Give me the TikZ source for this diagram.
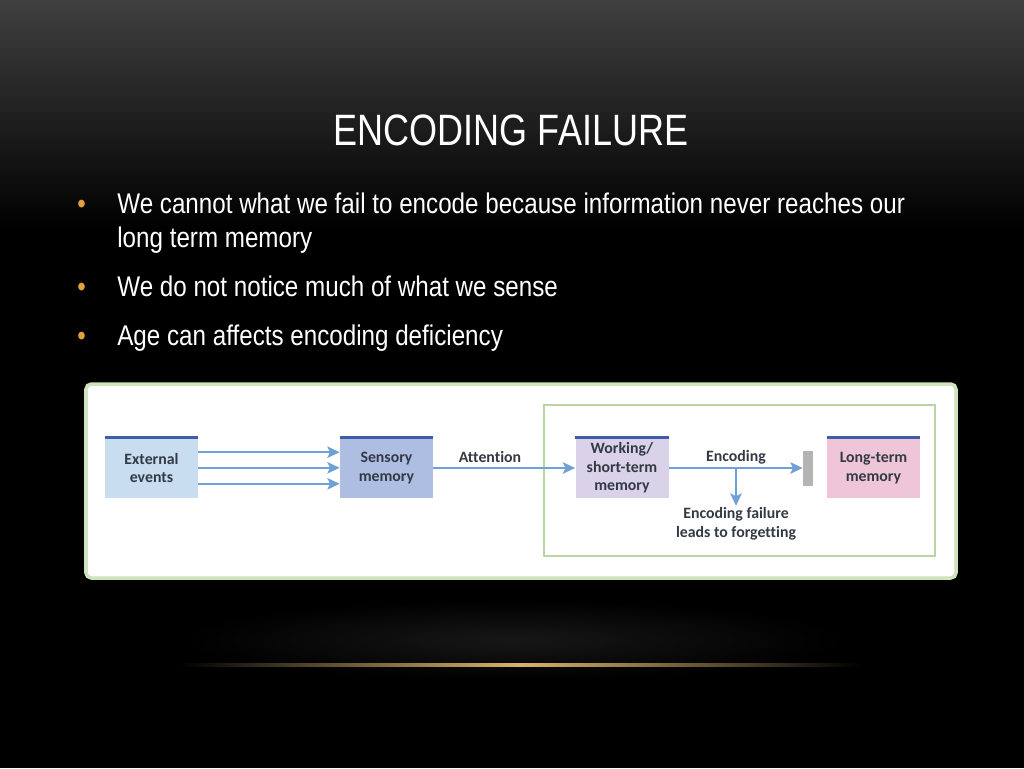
\documentclass[tikz,border=0pt]{standalone}
\usepackage{fontspec}
\setmainfont{Liberation Sans}
\newfontfamily\slidefont{Liberation Sans}[FakeStretch=0.82]
\newfontfamily\bulletfont{Liberation Sans}[FakeStretch=0.85]
\newfontfamily\figfont{Carlito}[Ligatures=NoCommon]
\usetikzlibrary{arrows.meta}

\definecolor{bulletorange}{HTML}{E3A13B}
\definecolor{panelgreen}{HTML}{CFE3BD}
\definecolor{innergreen}{HTML}{B9D5A0}
\definecolor{flowblue}{HTML}{6FA0D6}
\definecolor{barblue}{HTML}{3E5DA6}
\definecolor{extfill}{HTML}{C9DDF0}
\definecolor{sensfill}{HTML}{AEBDE2}
\definecolor{workfill}{HTML}{DAD2E9}
\definecolor{ltmfill}{HTML}{EFC6D8}
\definecolor{stopgray}{HTML}{B4B4B4}
\definecolor{figtext}{HTML}{333A45}
\definecolor{glowgold}{HTML}{D8B46A}

\begin{document}
\begin{tikzpicture}[x=0.02cm,y=-0.02cm,
  bullettext/.style={anchor=base west,text=white,align=left,inner sep=0pt,
    font=\bulletfont\fontsize{16.2}{19.3}\selectfont},
  dot/.style={anchor=base west,text=bulletorange,inner sep=0pt,
    font=\bulletfont\fontsize{16.2}{19.3}\selectfont},
  membox/.style={rectangle,minimum width=1.86cm,minimum height=1.2cm,
    align=center,text=figtext,inner sep=1pt,
    font=\figfont\bfseries\fontsize{9}{10.5}\selectfont},
  figlabel/.style={text=figtext,align=center,inner sep=1pt,
    font=\figfont\bfseries\fontsize{9}{10.5}\selectfont},
  flow/.style={flowblue,line width=1.1pt,-{Stealth[length=7pt,width=6.5pt,inset=1.5pt]}},
  topbar/.style={barblue,line width=1.5pt}]
  \useasboundingbox (0,0) rectangle (1024,768);
  % slide background
  \fill[black] (0,0) rectangle (1024,768);
  \shade[top color=black!75!white,bottom color=black] (0,0) rectangle (1024,230);
  \shade[inner color=black!91!white,outer color=black] (512,640) ellipse (330 and 40);
  \shade[left color=black,right color=black,middle color=glowgold] (180,663) rectangle (860,666);

  % title and bullets
  \node[text=white,font=\slidefont\fontsize{25}{30}\selectfont] (title) at (511,130) {ENCODING FAILURE};
  \node[dot] (d1) at (77,213) {•};
  \node[dot] (d2) at (77,296) {•};
  \node[dot] (d3) at (77,345) {•};
  \node[bullettext] (b1) at (117,213)
    {We cannot what we fail to encode because information never reaches our};
  \node[bullettext] (b1b) at (117,247) {long term memory};
  \node[bullettext] (b2) at (117,296) {We do not notice much of what we sense};
  \node[bullettext] (b3) at (117,345) {Age can affects encoding deficiency};

  % figure panel
  \filldraw[fill=white,draw=panelgreen,line width=2pt,rounded corners=3pt] (86,384) rectangle (956,578);
  \draw[innergreen,line width=1pt] (544,405) rectangle (935,556);

  \node[membox,fill=extfill] (ext) at (151.5,468) {External\\events};
  \node[membox,fill=sensfill] (sens) at (386.5,468) {Sensory\\memory};
  \node[membox,fill=workfill] (work) at (622,468) {Working/\\short-term\\memory};
  \node[membox,fill=ltmfill] (ltm) at (873.5,468) {Long-term\\memory};
  \node[fill=stopgray,minimum width=0.2cm,minimum height=0.7cm,inner sep=0pt] (stop) at (808,468) {};
  \foreach \b in {ext,sens,work,ltm}
    \draw[topbar] (\b.north west) -- (\b.north east);

  \draw[flow] ([yshift=9pt]ext.east) -- ([yshift=9pt]sens.west);
  \draw[flow] ([yshift=0.1pt]ext.east) -- ([yshift=0.1pt]sens.west);
  \draw[flow] ([yshift=-9pt]ext.east) -- ([yshift=-9pt]sens.west);
  \node[figlabel] (att) at (490,457) {Attention};
  \draw[flow] (sens.east) -- (work.west);
  \node[figlabel] (enc) at (736,457) {Encoding};
  \draw[flow] (work.east) -- (stop.west);
  \coordinate (split) at (736,468);
  \node[figlabel] (fail) at (736,524) {Encoding failure\\leads to forgetting};
  \draw[flow] (split) -- (fail.north);
\end{tikzpicture}
\end{document}
